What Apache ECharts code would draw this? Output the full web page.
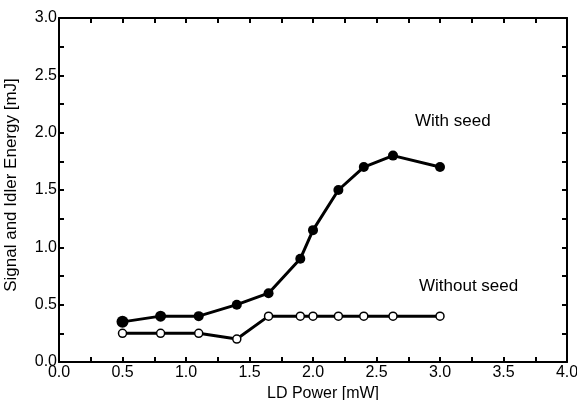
<!DOCTYPE html>
<html>
<head>
<meta charset="utf-8">
<script src="https://cdn.jsdelivr.net/npm/echarts@6/dist/echarts.min.js"></script>
<style>
  html, body { margin: 0; padding: 0; background: #fff; }
  #chart { width: 577px; height: 400px; }
</style>
</head>
<body>
<div id="chart"></div>
<script>
// LD power (mW) for each measurement
const ldPower = [0.5, 0.8, 1.1, 1.4, 1.65, 1.9, 2.0, 2.2, 2.4, 2.63, 3.0]
// signal + idler energy (mJ)
const withSeed = [0.35, 0.40, 0.40, 0.50, 0.60, 0.90, 1.15, 1.50, 1.70, 1.80, 1.70]
const withoutSeed = [0.25, 0.25, 0.25, 0.20, 0.40, 0.40, 0.40, 0.40, 0.40, 0.40, 0.40]

const font = "Liberation Sans"
const chart = echarts.init(document.getElementById("chart"))

function pairs(ys) {
  return ldPower.map((x, i) => [x, ys[i]])
}

const tickStyle = { show: true, inside: true, length: 5, lineStyle: { color: "#000", width: 2 } }
const minor = { show: true, splitNumber: 2, length: 5, lineStyle: { color: "#000", width: 2 } }
const axisLine = { show: true, onZero: false, lineStyle: { color: "#000", width: 2 } }

const option = {
  animation: false,
  grid: { left: 59, right: 10, top: 18, bottom: 38, containLabel: false, outerBoundsMode: "none" },
  xAxis: [
    {
      type: "value", min: 0, max: 4, interval: 0.5,
      name: "LD Power [mW]", nameLocation: "middle", nameGap: 23,
      nameTextStyle: { fontFamily: font, fontSize: 16, color: "#000", padding: [0, 0, 0, 20] },
      axisLine, axisTick: tickStyle, minorTick: minor,
      splitLine: { show: false },
      axisLabel: { fontFamily: font, fontSize: 16, color: "#000", margin: 3, formatter: v => v.toFixed(1) }
    },
    {
      type: "value", min: 0, max: 4, interval: 0.5, position: "top",
      axisLine, axisTick: tickStyle, minorTick: minor,
      splitLine: { show: false }, axisLabel: { show: false }
    }
  ],
  yAxis: [
    {
      type: "value", min: 0, max: 3, interval: 0.5,
      name: "Signal and Idler Energy [mJ]", nameLocation: "middle", nameGap: 39,
      nameTextStyle: { fontFamily: font, fontSize: 17, color: "#000", padding: [0, 0, 0, 10] },
      axisLine, axisTick: tickStyle, minorTick: minor,
      splitLine: { show: false },
      axisLabel: { fontFamily: font, fontSize: 16, color: "#000", margin: 2, formatter: v => v.toFixed(1) }
    },
    {
      type: "value", min: 0, max: 3, interval: 0.5, position: "right",
      axisLine, axisTick: tickStyle, minorTick: minor,
      splitLine: { show: false }, axisLabel: { show: false }
    }
  ],
  series: [
    {
      name: "With seed", type: "line", data: pairs(withSeed),
      symbol: "circle",
      symbolSize: (v, p) => (p.dataIndex === 0 ? 12 : p.dataIndex === 1 ? 11 : 10),
      lineStyle: { color: "#000", width: 3 },
      itemStyle: { color: "#000" }
    },
    {
      name: "Without seed", type: "line", data: pairs(withoutSeed),
      symbol: "circle", symbolSize: 8,
      lineStyle: { color: "#000", width: 3 },
      itemStyle: { color: "#fff", borderColor: "#000", borderWidth: 1.5 }
    }
  ],
  graphic: [
    { type: "text", left: 415, top: 113, style: { text: "With seed", font: "17px " + font, fill: "#000" } },
    { type: "text", left: 419, top: 278, style: { text: "Without seed", font: "17px " + font, fill: "#000" } }
  ]
}
chart.setOption(option)
</script>
</body>
</html>
